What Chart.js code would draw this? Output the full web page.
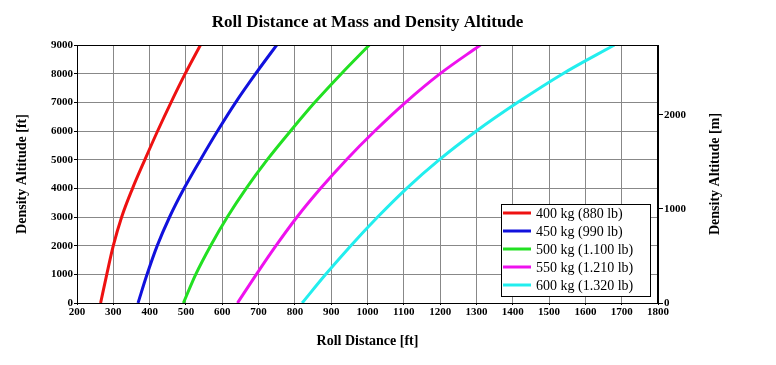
<!DOCTYPE html>
<html>
<head>
<meta charset="utf-8">
<script src="https://cdn.jsdelivr.net/npm/chart.js@4/dist/chart.umd.min.js"></script>
<style>
  body { margin: 0; background: #fff; }
  #wrap { width: 776px; height: 365px; }
</style>
</head>
<body>
<div id="wrap"><canvas id="rollChart" width="776" height="365"></canvas></div>
<script>
// density altitude steps (ft)
const altitudeFt = [0, 1000, 2000, 3000, 4000, 5000, 6000, 7000, 8000, 9000]

// roll distance (ft) per mass at each altitude
const roll400 = [265, 282, 300, 323, 353, 387, 422, 459, 498, 540]
const roll450 = [368, 393, 421, 455, 495, 540, 587, 637, 692, 750]
const roll500 = [493, 527, 568, 614, 666, 724, 788, 855, 928, 1005]
const roll550 = [642, 694, 748, 806, 871, 942, 1020, 1105, 1200, 1311]
const roll600 = [820, 885, 954, 1028, 1108, 1198, 1300, 1414, 1538, 1680]

const seriesLabels = ['400 kg (880 lb)', '450 kg (990 lb)', '500 kg (1.100 lb)', '550 kg (1.210 lb)', '600 kg (1.320 lb)']
const seriesColors = ['#ee1111', '#1111dd', '#22e022', '#ee11ee', '#22eeee']
const rightTicksM = [0, 1000, 2000]

const FT_PER_M = 3.28084
const serif = "'Liberation Serif', 'Times New Roman', serif"

const allRolls = [roll400, roll450, roll500, roll550, roll600]
const datasets = allRolls.map((rolls, i) => ({
    label: seriesLabels[i],
    data: rolls.map((r, j) => ({ x: r, y: altitudeFt[j] })),
    borderColor: seriesColors[i],
    backgroundColor: seriesColors[i],
    borderWidth: 3,
    pointRadius: 0,
    showLine: true,
    cubicInterpolationMode: 'monotone',
    yAxisID: 'y',
}))

const plainNum = (v) => String(v)

// frame, legend box and right axis title
const extras = {
    id: 'extras',
    afterDatasetsDraw(chart) {
        const { ctx, chartArea } = chart
        ctx.save()
        ctx.strokeStyle = '#000'
        ctx.lineWidth = 1
        ctx.strokeRect(chartArea.left + 0.5, chartArea.top + 0.5,
            chartArea.right - chartArea.left - 1, chartArea.bottom - chartArea.top)

        // legend
        const bx = 501, by = 204, bw = 149, bh = 92
        ctx.fillStyle = '#fff'
        ctx.fillRect(bx, by, bw, bh)
        ctx.strokeRect(bx + 0.5, by + 0.5, bw, bh)
        ctx.font = '14px ' + serif
        ctx.textBaseline = 'middle'
        chart.data.datasets.forEach((ds, i) => {
            const yy = by + 9 + i * 18
            ctx.strokeStyle = ds.borderColor
            ctx.lineWidth = 3
            ctx.beginPath()
            ctx.moveTo(bx + 2, yy)
            ctx.lineTo(bx + 30, yy)
            ctx.stroke()
            ctx.fillStyle = '#000'
            ctx.fillText(ds.label, bx + 35, yy + 1)
        })

        // right axis title, reads bottom to top
        ctx.translate(715, (chartArea.top + chartArea.bottom) / 2)
        ctx.rotate(-Math.PI / 2)
        ctx.font = 'bold 14px ' + serif
        ctx.fillStyle = '#000'
        ctx.textAlign = 'center'
        ctx.fillText('Density Altitude [m]', 0, 0)
        ctx.restore()
    },
}

new Chart(document.getElementById('rollChart'), {
    type: 'scatter',
    data: { datasets },
    plugins: [extras],
    options: {
        responsive: false,
        animation: false,
        layout: { padding: 0 },
        plugins: {
            legend: { display: false },
            tooltip: { enabled: false },
            title: {
                display: true,
                text: 'Roll Distance at Mass and Density Altitude',
                color: '#000',
                fullSize: false,
                font: { family: serif, size: 17, weight: 'bold' },
                padding: { top: 12, bottom: 12.6 },
            },
        },
        scales: {
            x: {
                type: 'linear',
                min: 200,
                max: 1800,
                ticks: {
                    stepSize: 100,
                    color: '#000',
                    padding: 1,
                    maxRotation: 0,
                    callback: plainNum,
                    font: { family: serif, size: 11, weight: 'bold' },
                },
                grid: { color: '#888', tickLength: 2, tickColor: '#000' },
                border: { color: '#000' },
                title: {
                    display: true,
                    text: 'Roll Distance [ft]',
                    color: '#000',
                    font: { family: serif, size: 14, weight: 'bold' },
                    padding: { top: 0, bottom: 15.6 },
                },
                afterFit(scale) { scale.height = 62 },
            },
            y: {
                type: 'linear',
                position: 'left',
                min: 0,
                max: 9000,
                ticks: {
                    stepSize: 1000,
                    color: '#000',
                    padding: 1,
                    callback: plainNum,
                    font: { family: serif, size: 11, weight: 'bold' },
                },
                grid: { color: '#888', tickLength: 3, tickColor: '#000' },
                border: { color: '#000' },
                title: {
                    display: true,
                    text: 'Density Altitude [ft]',
                    color: '#000',
                    font: { family: serif, size: 14, weight: 'bold' },
                    padding: { top: 13.6, bottom: 0 },
                },
                afterFit(scale) { scale.width = 77 },
            },
            y2: {
                type: 'linear',
                position: 'right',
                min: 0,
                max: 9000 / FT_PER_M,
                afterBuildTicks(scale) {
                    scale.ticks = rightTicksM.map((v) => ({ value: v }))
                },
                ticks: {
                    color: '#000',
                    padding: 1,
                    callback: plainNum,
                    font: { family: serif, size: 11, weight: 'bold' },
                },
                grid: { drawOnChartArea: false, tickLength: 5, color: '#000' },
                border: { color: '#000' },
                afterFit(scale) { scale.width = 118 },
            },
        },
    },
})
</script>
</body>
</html>
